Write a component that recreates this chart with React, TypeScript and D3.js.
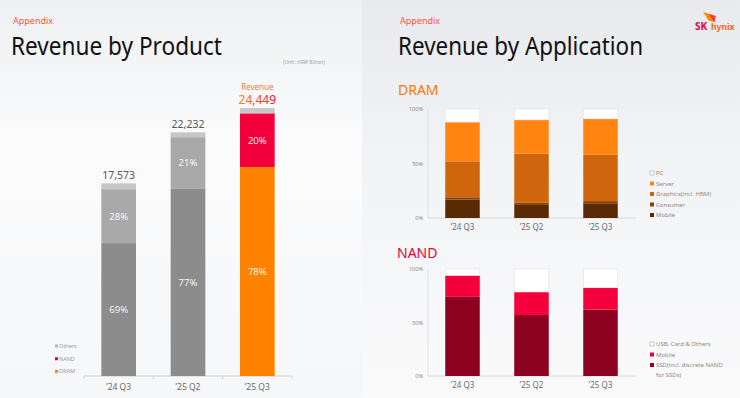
import { useMemo } from 'react';
import * as d3 from 'd3';

const quarters = ['\u201924 Q3', '\u201925 Q2', '\u201925 Q3'];

// Revenue by product (KRW billion) and shares in %
const productTotals = [17573, 22232, 24449];
const dramShare = [69, 77, 78];
const nandShare = [28, 21, 20];
const othersShare = [3, 2, 2];

// DRAM revenue by application, %
const dramMobile = [17, 12, 13.5];
const dramConsumer = [2, 2, 2];
const dramGraphics = [33, 45, 42.5];
const dramServer = [36, 31, 33];
const dramPC = [12, 10, 9];

// NAND revenue by application, %
const nandSSD = [74, 57, 62];
const nandMobile = [20, 21.5, 20.5];
const nandUSB = [6, 21.5, 17.5];

const yTicks = [0, 50, 100];
const FONT = "'Noto Sans', 'Open Sans', sans-serif";

type Seg = { key: string; values: number[]; color: string; stroke?: string };

function AppChart({ top, bottom, segs, legend, legendTop }: {
	top: number; bottom: number; segs: Seg[];
	legend: { label: string[]; color: string; stroke?: string }[]; legendTop: number;
}) {
	const x = d3.scaleBand().domain(quarters).range([428, 635]).paddingInner(0.5).paddingOuter(0.25);
	const y = d3.scaleLinear().domain([0, 100]).range([bottom, top]);
	const stacked = d3.stack<number>().keys(segs.map((s) => s.key)).value((i, k) => segs.find((s) => s.key === k)!.values[i])(
		quarters.map((_, i) => i)
	);
	let ly = legendTop;
	return (
		<g>
			<line x1={428} x2={428} y1={top} y2={bottom} stroke="#dcdcdc" strokeWidth={0.8} />
			<line x1={428} x2={636} y1={bottom} y2={bottom} stroke="#d0d0d0" strokeWidth={0.8} />
			{yTicks.map((t) => (
				<text key={t} x={423} y={y(t) + 2} fontSize={5.5} fill="#8a8a8a" textAnchor="end" fontFamily={FONT}>{t}%</text>
			))}
			{stacked.map((layer, li) =>
				layer.map((d, i) => (
					<rect key={`${li}-${i}`} x={x(quarters[i])} y={y(d[1])} width={x.bandwidth()} height={y(d[0]) - y(d[1])}
						fill={segs[li].color} stroke={segs[li].stroke ?? 'none'} strokeWidth={0.6} />
				))
			)}
			{quarters.map((q) => (
				<text key={q} x={x(q)! + x.bandwidth() / 2} y={bottom + 12} fontSize={8} fill="#6a6a6a" textAnchor="middle" fontFamily={FONT}>{q}</text>
			))}
			{legend.map((l) => {
				const cy = ly;
				ly += 10.5 * l.label.length;
				return (
					<g key={l.label[0]}>
						<rect x={650} y={cy - 4} width={4} height={4} fill={l.color} stroke={l.stroke ?? 'none'} strokeWidth={0.5} />
						{l.label.map((t, k) => (
							<text key={k} x={656} y={cy + k * 10} fontSize={6} fill="#8a8a8a" fontFamily={FONT}>{t}</text>
						))}
					</g>
				);
			})}
		</g>
	);
}

export default function App() {
	const x = useMemo(() => d3.scaleBand().domain(quarters).range([84, 292]).paddingInner(0.5).paddingOuter(0.25), []);
	const y = useMemo(() => d3.scaleLinear().domain([0, 24449]).range([376, 108]), []);
	const highlight = 2;

	const productSegs = quarters.map((q, i) => {
		const total = productTotals[i];
		const parts = [
			{ key: 'DRAM', share: dramShare[i], color: i === highlight ? '#ff8200' : '#8c8c8c' },
			{ key: 'NAND', share: nandShare[i], color: i === highlight ? '#f2003c' : '#a9a9a9' },
			{ key: 'Others', share: othersShare[i], color: i === highlight ? '#c8c8c8' : '#c6c6c6' },
		];
		let acc = 0;
		return parts.map((p) => {
			const v0 = acc;
			acc += (total * p.share) / 100;
			return { ...p, v0, v1: acc, q };
		});
	});

	const axisTicks = [84, ...quarters.map((q) => x(q)! + x.bandwidth() + x.step() * 0.25)];

	return (
		<svg width={740} height={398} style={{ position: 'fixed', left: 0, top: 0 }} fontFamily={FONT}>
			<defs>
				<linearGradient id="bg" x1="0" y1="0" x2="0" y2="1">
					<stop offset="0" stopColor="#e8eaed" />
					<stop offset="0.45" stopColor="#f3f4f6" />
					<stop offset="1" stopColor="#fafafb" />
				</linearGradient>
				<linearGradient id="leftbg" x1="0" y1="0" x2="0" y2="1">
					<stop offset="0" stopColor="#eef0f2" />
					<stop offset="0.35" stopColor="#fbfbfc" />
					<stop offset="1" stopColor="#f6f7f8" />
				</linearGradient>
				<linearGradient id="revgrad" x1="0" y1="0" x2="1" y2="0">
					<stop offset="0" stopColor="#ff8a10" />
					<stop offset="1" stopColor="#f0103c" />
				</linearGradient>
			</defs>
			<rect width={740} height={398} fill="url(#bg)" />
			<rect width={362} height={398} fill="url(#leftbg)" />

			{/* Left panel */}
			<text x={13} y={24} fontSize={9} fill="#f25a46">Appendix</text>
			<text x={11} y={55} fontSize={26} fill="#111" textLength={211} lengthAdjust="spacingAndGlyphs">Revenue by Product</text>
			<text x={283} y={64} fontSize={4.8} fill="#a0a0a0">(Unit : KRW Billion)</text>

			<line x1={84} x2={292} y1={376} y2={376} stroke="#c4c4c4" strokeWidth={0.8} />
			{axisTicks.map((t, i) => (
				<line key={i} x1={t} x2={t} y1={376} y2={379} stroke="#c4c4c4" strokeWidth={0.8} />
			))}
			{productSegs.map((bar, i) => (
				<g key={i}>
					{bar.map((s) => (
						<rect key={s.key} x={x(s.q)} y={y(s.v1)} width={x.bandwidth()} height={y(s.v0) - y(s.v1)} fill={s.color} />
					))}
					{bar.filter((s) => s.key !== 'Others').map((s) => (
						<text key={`t-${s.key}`} x={x(s.q)! + x.bandwidth() / 2} y={(y(s.v0) + y(s.v1)) / 2 + 3.5} fontSize={9.5}
							fill="#fff" textAnchor="middle" opacity={0.92}>{s.share}%</text>
					))}
					{i === highlight ? (
						<>
							<text x={x(bar[0].q)! + x.bandwidth() / 2} y={y(productTotals[i]) - 18} fontSize={8} fill="#f07a3c" textAnchor="middle">Revenue</text>
							<text x={x(bar[0].q)! + x.bandwidth() / 2} y={y(productTotals[i]) - 4} fontSize={12} fill="url(#revgrad)" textAnchor="middle">
								{d3.format(',')(productTotals[i])}
							</text>
						</>
					) : (
						<text x={x(bar[0].q)! + x.bandwidth() / 2} y={y(productTotals[i]) - 4} fontSize={10.5} fill="#555" textAnchor="middle">
							{d3.format(',')(productTotals[i])}
						</text>
					)}
				</g>
			))}
			{quarters.map((q) => (
				<text key={q} x={x(q)! + x.bandwidth() / 2} y={390} fontSize={8.5} fill="#6a6a6a" textAnchor="middle">{q}</text>
			))}
			{[
				{ label: 'Others', color: '#b4b4b4' },
				{ label: 'NAND', color: '#e6004a' },
				{ label: 'DRAM', color: '#ff8200' },
			].map((l, i) => (
				<g key={l.label}>
					<rect x={55} y={344.5 + i * 12.7} width={3} height={3} fill={l.color} />
					<text x={59} y={348 + i * 12.7} fontSize={5.5} fill="#9a9a9a">{l.label}</text>
				</g>
			))}

			{/* Right panel */}
			<text x={400} y={24} fontSize={9} fill="#f25a46">Appendix</text>
			<text x={398} y={55} fontSize={26} fill="#111" textLength={245} lengthAdjust="spacingAndGlyphs">Revenue by Application</text>
			<g>
				<path d="M703,12 L712,15 L716,22 L709,21 Z" fill="#ff8a00" />
				<path d="M709,14 L716,16 L714,22 Z" fill="#f2204a" opacity={0.85} />
				<text x={695} y={30} fontSize={10} fontWeight={700} fill="#e8003c">SK</text>
				<text x={711} y={30} fontSize={8.5} fontWeight={700} fill="#f06a20">hynix</text>
			</g>

			<text x={398} y={95} fontSize={14} fill="#ff7a00">DRAM</text>
			<AppChart
				top={109}
				bottom={218}
				segs={[
					{ key: 'Mobile', values: dramMobile, color: '#5a2a05' },
					{ key: 'Consumer', values: dramConsumer, color: '#8a4206' },
					{ key: 'Graphics', values: dramGraphics, color: '#cf660e' },
					{ key: 'Server', values: dramServer, color: '#ff8510' },
					{ key: 'PC', values: dramPC, color: '#ffffff', stroke: '#e2e2e2' },
				]}
				legendTop={175}
				legend={[
					{ label: ['PC'], color: '#fff', stroke: '#999' },
					{ label: ['Server'], color: '#ff8510' },
					{ label: ['Graphics(incl. HBM)'], color: '#cf660e' },
					{ label: ['Consumer'], color: '#8a4206' },
					{ label: ['Mobile'], color: '#5a2a05' },
				]}
			/>

			<text x={397} y={258} fontSize={14} fill="#e8003c">NAND</text>
			<AppChart
				top={269}
				bottom={376}
				segs={[
					{ key: 'SSD', values: nandSSD, color: '#8c0020' },
					{ key: 'Mobile', values: nandMobile, color: '#f4003c' },
					{ key: 'USB', values: nandUSB, color: '#ffffff', stroke: '#e2e2e2' },
				]}
				legendTop={346}
				legend={[
					{ label: ['USB, Card & Others'], color: '#fff', stroke: '#999' },
					{ label: ['Mobile'], color: '#e6004a' },
					{ label: ['SSD(incl. discrete NAND', 'for SSDs)'], color: '#8c0020' },
				]}
			/>
		</svg>
	);
}
